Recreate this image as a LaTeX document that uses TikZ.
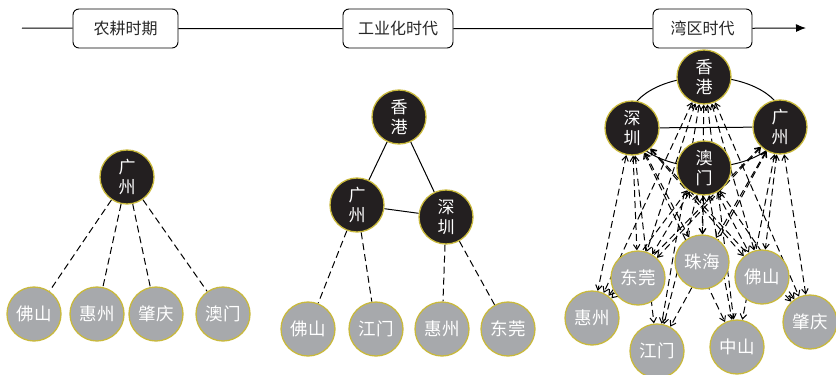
\documentclass[tikz,border=0pt]{standalone}
\usepackage{fontspec}
\setmainfont{Noto Sans CJK SC}
\usetikzlibrary{arrows.meta,backgrounds}
\definecolor{nodeblack}{HTML}{231F20}
\definecolor{ringyellow}{HTML}{C9B93C}
\definecolor{nodegrey}{HTML}{A7A9AC}
\begin{document}
\begin{tikzpicture}[x=1pt,y=-1pt,
  bignode/.style={circle, draw=ringyellow, line width=1.3pt, fill=nodeblack, text=white,
    minimum size=54pt, inner sep=0pt, align=center, font=\fontsize{17}{20}\selectfont},
  smallnode/.style={circle, draw=ringyellow, line width=1.3pt, fill=nodegrey, text=white,
    minimum size=54pt, inner sep=0pt, font=\fontsize{17.5}{20}\selectfont},
  era/.style={draw, rounded corners=6pt, line width=0.9pt, fill=white, text=black!85,
    minimum height=39pt, inner sep=0pt, font=\fontsize{16}{18}\selectfont},
  link/.style={line width=1pt, dash pattern=on 7pt off 4pt},
  solidlink/.style={line width=1pt},
  twoway/.style={link, {Straight Barb[length=5pt,width=6.5pt]}-{Straight Barb[length=5pt,width=6.5pt]}}
]
\useasboundingbox (0,0) rectangle (836,375);

% timeline
\coordinate (tl0) at (22,28);
\coordinate (tl1) at (806,28);
\node[era, minimum width=105pt] (era1) at (125.5,28.5) {农耕时期};
\node[era, minimum width=110pt] (era2) at (398,28.5) {工业化时代};
\node[era, minimum width=99pt] (era3) at (702.5,28.5) {湾区时代};
\draw[line width=1pt, -{Latex[length=10pt,width=8pt]}] (tl0) -- (era1) -- (era2) -- (era3) -- (tl1);

% left group
\node[bignode] (lGZ) at (127,177) {广\\州};
\node[smallnode] (lFS) at (34,314) {佛山};
\node[smallnode] (lHZ) at (97,314) {惠州};
\node[smallnode] (lZQ) at (156,314) {肇庆};
\node[smallnode] (lMO) at (223,314) {澳门};

% middle group
\node[bignode] (mHK) at (399,117) {香\\港};
\node[bignode] (mGZ) at (357,205) {广\\州};
\node[bignode] (mSZ) at (446,217) {深\\圳};
\node[smallnode] (mFS) at (308,329) {佛山};
\node[smallnode] (mJM) at (376,329) {江门};
\node[smallnode] (mHZ) at (442,329) {惠州};
\node[smallnode] (mDG) at (508,329) {东莞};

% right group
\node[bignode] (rHK) at (704,77) {香\\港};
\node[bignode] (rSZ) at (632,128) {深\\圳};
\node[bignode] (rGZ) at (780,127) {广\\州};
\node[bignode] (rMO) at (704,168) {澳\\门};
\node[smallnode] (rDG) at (638,278) {东莞};
\node[smallnode] (rZH) at (702,262) {珠海};
\node[smallnode] (rFS) at (762,277) {佛山};
\node[smallnode] (rHZ) at (592,318) {惠州};
\node[smallnode] (rJM) at (657,351) {江门};
\node[smallnode] (rZS) at (737,347) {中山};
\node[smallnode] (rZQ) at (810,322) {肇庆};

\begin{scope}[on background layer]
  \foreach \g in {lFS,lHZ,lZQ,lMO} \draw[link] (lGZ) -- (\g);
  \draw[solidlink] (mHK) -- (mGZ);
  \draw[solidlink] (mHK) -- (mSZ);
  \draw[solidlink] (mGZ) -- (mSZ);
  \draw[link] (mGZ) -- (mFS);
  \draw[link] (mGZ) -- (mJM);
  \draw[link] (mSZ) -- (mHZ);
  \draw[link] (mSZ) -- (mDG);
  \draw[solidlink] (706,122) ellipse [x radius=78, y radius=45];
  \draw[solidlink] (rSZ) -- (rGZ);
  \foreach \b in {rHK,rSZ,rGZ,rMO}
    \foreach \g in {rDG,rZH,rFS,rHZ,rJM,rZS,rZQ}
      \draw[twoway] (\b) -- (\g);
\end{scope}
\end{tikzpicture}
\end{document}
